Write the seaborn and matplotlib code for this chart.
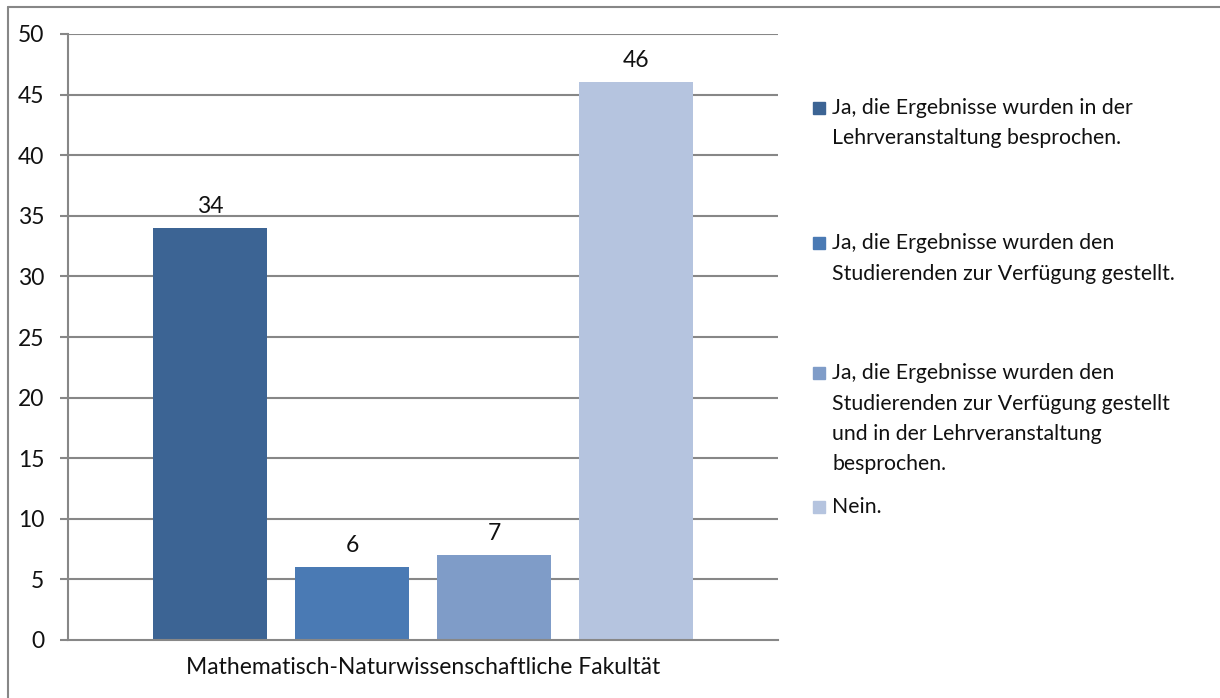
import matplotlib
matplotlib.use("Agg")
import matplotlib.pyplot as plt
import seaborn as sns
import pandas as pd
from matplotlib.lines import Line2D
from matplotlib.patches import Rectangle

# data
faculty = ["Mathematisch-Naturwissenschaftliche Fakultät"]
answers = ["Ja, die Ergebnisse wurden in der Lehrveranstaltung besprochen.",
           "Ja, die Ergebnisse wurden den Studierenden zur Verfügung gestellt.",
           "Ja, die Ergebnisse wurden den Studierenden zur Verfügung gestellt und in der Lehrveranstaltung besprochen.",
           "Nein."]
legend_lines = [["Ja, die Ergebnisse wurden in der", "Lehrveranstaltung besprochen."],
                ["Ja, die Ergebnisse wurden den", "Studierenden zur Verfügung gestellt."],
                ["Ja, die Ergebnisse wurden den", "Studierenden zur Verfügung gestellt",
                 "und in der Lehrveranstaltung", "besprochen."],
                ["Nein."]]
counts = [34, 6, 7, 46]
colors = ["#3c6494", "#4a7ab4", "#7f9cc8", "#b5c4df"]
yticks = [0, 5, 10, 15, 20, 25, 30, 35, 40, 45, 50]

df = pd.DataFrame({"fakultaet": faculty * len(answers), "antwort": answers, "anzahl": counts})

sns.set_style("white")
plt.rcParams['font.family'] = ['Lato', 'DejaVu Sans']

W, H = 1220, 698
fs_axis = 16.5
fs_leg = 15.3
txt_col = "#111111"
grid_col = "#878787"

fig = plt.figure(figsize=(W / 100, H / 100), dpi=100)
ax = fig.add_axes([68 / W, 1 - 640 / H, (778 - 68) / W, (640 - 34) / H])

sns.barplot(data=df, x="fakultaet", y="anzahl", hue="antwort", hue_order=answers,
            palette=colors, saturation=1, width=0.8, gap=0.2, legend=False, ax=ax,
            edgecolor="none", zorder=3)

ax.set_ylim(0, 50)
ax.set_xlim(-0.5, 0.5)
ax.set_yticks(yticks)
ax.set_yticklabels([str(t) for t in yticks], fontsize=fs_axis, color=txt_col)
for t in yticks[1:]:
    ax.axhline(t, color=grid_col, lw=1.5, zorder=1)

ax.set_xlabel("")
ax.set_ylabel("")
ax.set_xticks([0])
ax.set_xticklabels(faculty, fontsize=fs_axis, color=txt_col)
ax.set_xticks([-0.5, 0.5], minor=True)
ax.tick_params(axis="x", which="major", length=0, pad=12)
ax.tick_params(axis="x", which="minor", length=6, width=1.5, color=grid_col, direction="out")
ax.tick_params(axis="y", length=6, width=1.5, color=grid_col, direction="out", pad=11, left=True)

for s in ["top", "right"]:
    ax.spines[s].set_visible(False)
for s in ["left", "bottom"]:
    ax.spines[s].set_color(grid_col)
    ax.spines[s].set_linewidth(1.5)
    ax.spines[s].set_zorder(4)

for cont in ax.containers:
    ax.bar_label(cont, fmt="%g", padding=8, fontsize=fs_axis, color=txt_col)

# legend, written like the original (marker at first line)
first_line_y = [108, 243, 373, 507]
line_step = 30.5
for lines, y0, c in zip(legend_lines, first_line_y, colors):
    fig.add_artist(Rectangle((813 / W, 1 - (y0 + 6) / H), 12 / W, 12 / H,
                             transform=fig.transFigure, color=c))
    for i, txt in enumerate(lines):
        fig.text(832 / W, 1 - (y0 + i * line_step) / H, txt, fontsize=fs_leg,
                 va="center", ha="left", color=txt_col)

# outer frame (left and top visible)
fig.add_artist(Line2D([8 / W, 8 / W], [0, 1 - 7 / H], transform=fig.transFigure, color=grid_col, lw=1.5))
fig.add_artist(Line2D([8 / W, 1], [1 - 7 / H, 1 - 7 / H], transform=fig.transFigure, color=grid_col, lw=1.5))

fig.savefig("out.png", dpi=100)
